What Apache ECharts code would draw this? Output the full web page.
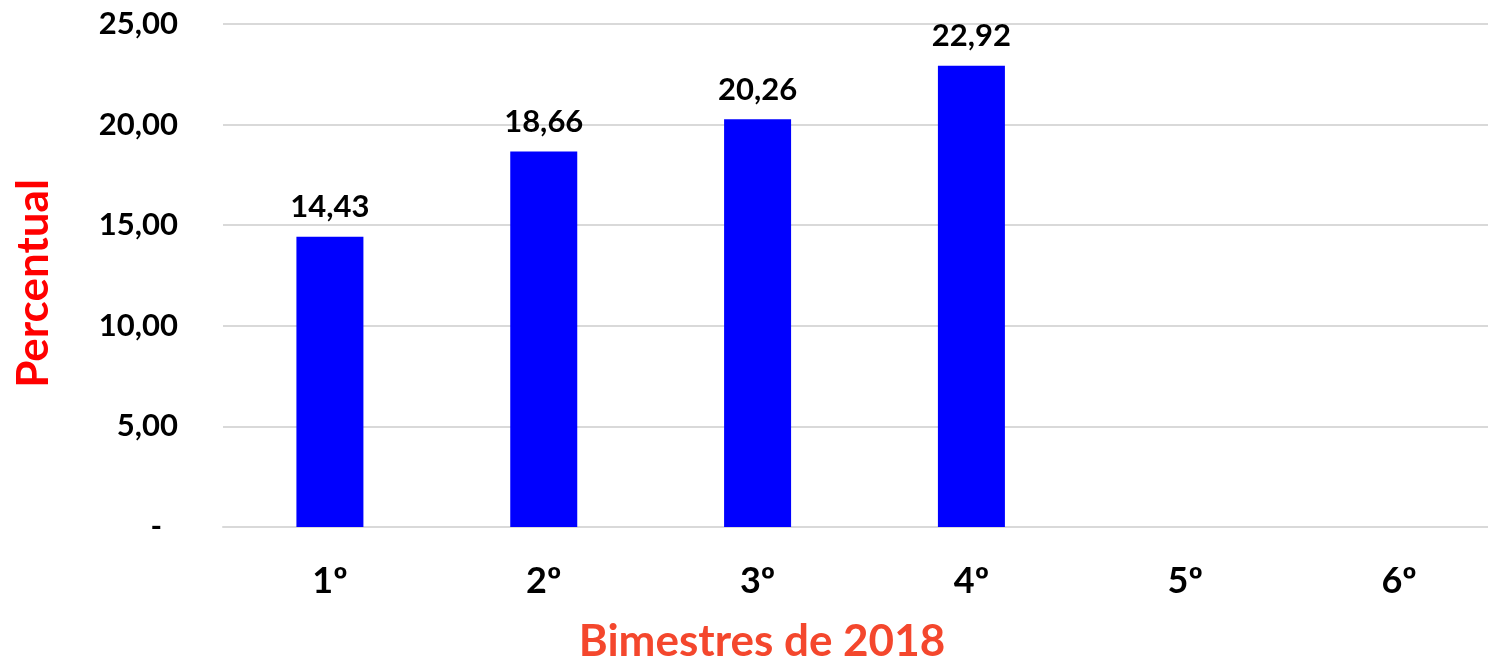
<!DOCTYPE html>
<html>
<head>
<meta charset="utf-8">
<script src="https://cdn.jsdelivr.net/npm/echarts@6/dist/echarts.min.js"></script>
<style>html,body{margin:0;padding:0;background:#fff}#c{width:1488px;height:669px}</style>
</head>
<body>
<div id="c"></div>
<script>
var categories = ['1º', '2º', '3º', '4º', '5º', '6º'];
var values = [14.43, 18.66, 20.26, 22.92, null, null];
var yTicks = [0, 5, 10, 15, 20, 25];
var xTitle = 'Bimestres de 2018';
var yTitle = 'Percentual';

function fmt(v) { return v.toFixed(2).replace('.', ','); }

var chart = echarts.init(document.getElementById('c'));
chart.setOption({
  animation: false,
  title: {
    text: xTitle,
    left: 762,
    top: 620,
    textAlign: 'center',
    padding: 0,
    textStyle: { color: '#f4472d', fontFamily: 'Lato', fontWeight: 'bold', fontSize: 44 }
  },
  grid: { left: 223, top: 24, width: 1283, height: 503, containLabel: false, outerBoundsMode: 'none' },
  xAxis: {
    type: 'category',
    data: categories,
    axisTick: { show: false },
    axisLine: { lineStyle: { color: '#d9d9d9', width: 2 } },
    axisLabel: { color: '#000', fontFamily: 'Lato', fontWeight: 'bold', fontSize: 36, margin: 36 }
  },
  yAxis: {
    type: 'value',
    min: yTicks[0],
    max: yTicks[yTicks.length - 1],
    interval: 5,
    axisLine: { show: false },
    axisTick: { show: false },
    splitLine: { lineStyle: { color: '#d9d9d9', width: 2 } },
    axisLabel: {
      color: '#000', fontFamily: 'Lato', fontWeight: 'bold', fontSize: 31, margin: 45,
      formatter: function (v) { return v === 0 ? '{d|-}' : fmt(v); },
      rich: { d: { color: '#000', fontFamily: 'Lato', fontWeight: 'bold', fontSize: 31, padding: [0, 16, 0, 0] } }
    },
    name: yTitle,
    nameLocation: 'middle',
    nameGap: 189,
    nameRotate: 90,
    nameTextStyle: { color: '#ff0000', fontFamily: 'Lato', fontWeight: 'bold', fontSize: 44, verticalAlign: 'middle', padding: [0, 16, 0, 0] }
  },
  series: [{
    type: 'bar',
    data: values,
    barWidth: 67,
    itemStyle: { color: '#0000ff' },
    label: {
      show: true, position: 'top', distance: 14,
      color: '#000', fontFamily: 'Lato', fontWeight: 'bold', fontSize: 31,
      formatter: function (p) { return p.value == null ? '' : fmt(p.value); }
    }
  }]
});
</script>
</body>
</html>
